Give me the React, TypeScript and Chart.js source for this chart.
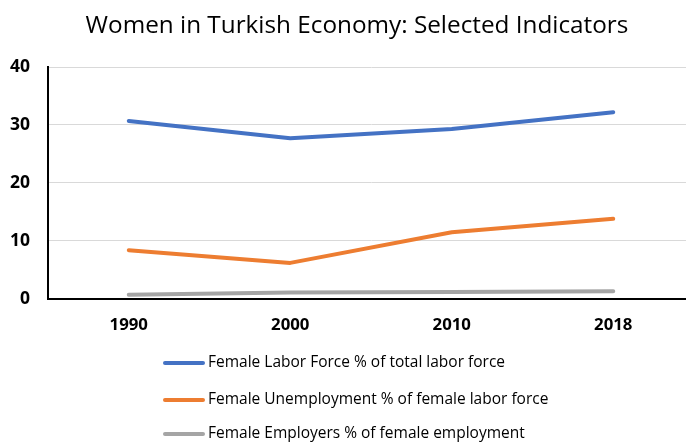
import React, { useEffect, useRef } from "react";
import { Chart, registerables } from "chart.js";

Chart.register(...registerables);

const TITLE = "Women in Turkish Economy: Selected Indicators";
const categories = ["1990", "2000", "2010", "2018"];
const laborForce = [30.7, 27.7, 29.3, 32.2];
const unemployment = [8.4, 6.2, 11.5, 13.8];
const employers = [0.7, 1.1, 1.2, 1.3];
const seriesLabels = [
  "Female Labor Force % of total labor force",
  "Female Unemployment % of female labor force",
  "Female Employers % of female employment",
];
const colors = ["#4472C4", "#ED7D31", "#A5A5A5"];

const FONT = "'Open Sans', 'Liberation Sans', sans-serif";
const SHIFT = 8; // canvas is shifted left by this many pixels

const decorPlugin = {
  id: "decor",
  afterDraw(chart: any) {
    const ctx = chart.ctx;
    ctx.save();
    // title
    ctx.fillStyle = "#000";
    ctx.font = `24.3px ${FONT}`;
    ctx.textAlign = "center";
    ctx.textBaseline = "alphabetic";
    ctx.fillText(TITLE, 357 + SHIFT, 33);
    // legend
    const rowsFromBottom = [79, 42, 8];
    chart.data.datasets.forEach((ds: any, i: number) => {
      const y = chart.height - rowsFromBottom[i];
      ctx.strokeStyle = ds.borderColor;
      ctx.lineWidth = 4;
      ctx.lineCap = "round";
      ctx.beginPath();
      ctx.moveTo(165 + SHIFT, y);
      ctx.lineTo(203 + SHIFT, y);
      ctx.stroke();
      ctx.fillStyle = "#000";
      ctx.font = `15.5px ${FONT}`;
      ctx.textBaseline = "middle";
      ctx.textAlign = "left";
      ctx.fillText(ds.label, 208 + SHIFT, y);
    });
    ctx.restore();
  },
};

export default function App() {
  const ref = useRef<HTMLCanvasElement>(null);
  useEffect(() => {
    const values = [laborForce, unemployment, employers];
    const chart = new Chart(ref.current!, {
      type: "line",
      data: {
        labels: categories,
        datasets: values.map((v, i) => ({
          label: seriesLabels[i],
          data: v,
          borderColor: colors[i],
          backgroundColor: colors[i],
          borderWidth: 4,
          pointRadius: 0,
          borderCapStyle: "round",
          borderJoinStyle: "round",
          tension: 0,
        })),
      },
      options: {
        animation: false,
        responsive: true,
        maintainAspectRatio: false,
        layout: { padding: { left: 0, right: 8, top: 67, bottom: 91 } },
        plugins: {
          legend: { display: false },
          tooltip: { enabled: false },
          title: { display: false },
        },
        scales: {
          x: {
            offset: true,
            grid: { display: false, drawTicks: false },
            border: { display: true, color: "#000", width: 2 },
            ticks: {
              color: "#000",
              padding: 16,
              font: { family: FONT, size: 16.8, weight: "bold" },
            },
          },
          y: {
            min: 0,
            max: 40,
            grid: { color: "#D9D9D9", lineWidth: 1, drawTicks: false },
            border: { display: true, color: "#000", width: 2 },
            ticks: {
              stepSize: 10,
              color: "#000",
              padding: 18,
              font: { family: FONT, size: 17.5, weight: "bold" },
            },
          },
        },
      },
      plugins: [decorPlugin],
    });
    return () => chart.destroy();
  }, []);
  return (
    <div style={{ position: "fixed", left: 0, top: 0, width: 686, height: 442, overflow: "hidden", background: "#fff" }}>
      <div style={{ position: "absolute", left: -SHIFT, top: 0, width: 710, height: 442 }}>
        <canvas ref={ref} />
      </div>
    </div>
  );
}
